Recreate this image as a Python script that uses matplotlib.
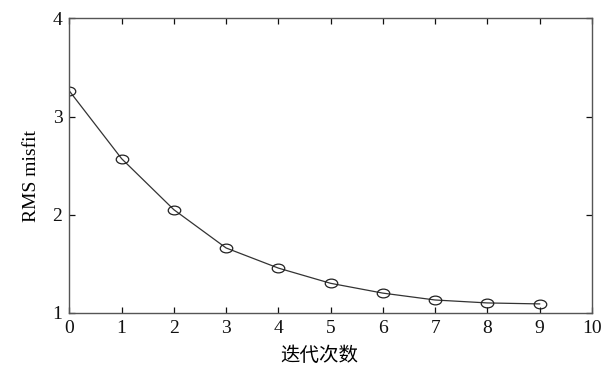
import numpy as np
import matplotlib.pyplot as plt
from matplotlib.path import Path

# iterations and RMS misfit
iterations = [0, 1, 2, 3, 4, 5, 6, 7, 8, 9]
rms_misfit = [3.26, 2.57, 2.05, 1.66, 1.455, 1.30, 1.20, 1.13, 1.10, 1.09]
xticks = [0, 1, 2, 3, 4, 5, 6, 7, 8, 9, 10]
yticks = [1, 2, 3, 4]

plt.rcParams['font.family'] = ['Liberation Serif', 'Noto Sans CJK SC']

# flattened circle marker (the original looks slightly squashed)
circ = Path.unit_circle()
ellipse = Path(circ.vertices * np.array([1.0, 0.7]), circ.codes)

fig = plt.figure(figsize=(6.14, 3.75), dpi=100)
ax = fig.add_axes([0.113, 0.166, 0.851, 0.785])

ax.plot(iterations, rms_misfit, color='#333333', linewidth=0.9,
        marker=ellipse, markersize=9, markerfacecolor='none',
        markeredgecolor='#222222', markeredgewidth=0.9)

ax.set_xlim(0, 10)
ax.set_ylim(1, 4)
ax.set_xticks(xticks)
ax.set_yticks(yticks)
ax.tick_params(direction='in', length=4, width=0.9, labelsize=14,
               top=True, right=True, colors='#111111', pad=5)
for s in ax.spines.values():
    s.set_color('#555555')
    s.set_linewidth(1.0)

ax.set_xlabel('迭代次数', fontsize=14, family=['Noto Sans CJK SC'])
ax.xaxis.set_label_coords(0.478, -0.108)
ax.set_ylabel('RMS misfit', fontsize=14)
ax.yaxis.set_label_coords(-0.056, 0.464)

fig.savefig('out.png', dpi=100)
